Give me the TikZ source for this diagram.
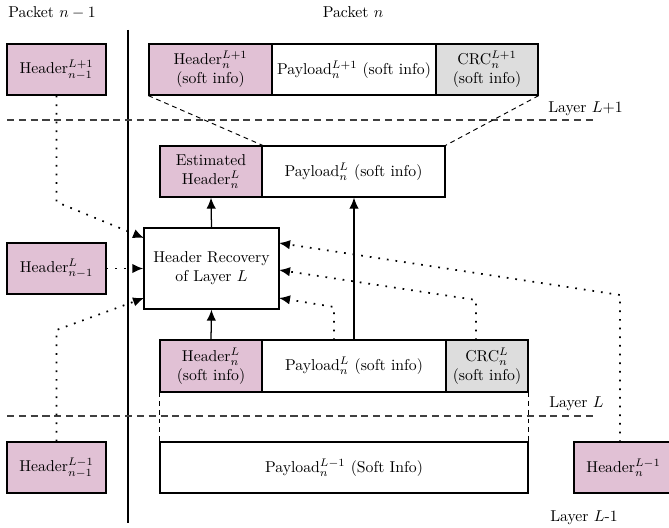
\documentclass[tikz,border=0pt]{standalone}
\usetikzlibrary{arrows.meta}
\definecolor{hdr}{RGB}{225,193,213}
\definecolor{crc}{RGB}{221,221,221}
\def\px{0.635pt}
\begin{document}
\begin{tikzpicture}[x=0.635pt,y=-0.635pt,
  box/.style={draw, line width=0.8pt, inner sep=0pt, align=center, minimum height=51*\px},
  hbox/.style={box, fill=hdr},
  cbox/.style={box, fill=crc},
  dotarrow/.style={line width=1.1pt, dash pattern=on 1.1pt off 4.4pt, -{Latex[length=7pt,width=6pt]}},
  solidarrow/.style={line width=0.8pt, -{Latex[length=7pt,width=6pt]}},
  zoomline/.style={line width=0.6pt, dash pattern=on 3pt off 2.5pt},
  layerline/.style={black!75, line width=0.7pt, dash pattern=on 4.5pt off 3pt},
  lbl/.style={anchor=base west, inner sep=0pt}]
\useasboundingbox (0,0) rectangle (669,527);

% labels
\node[lbl] (pk1) at (8,18) {Packet $n-1$};
\node[anchor=base, inner sep=0pt] (pk2) at (353,18) {Packet $n$};
\node[lbl] (ly1) at (548,112) {Layer $L{+}1$};
\node[lbl] (ly2) at (549,407) {Layer $L$};
\node[lbl] (ly3) at (550,521) {Layer $L$-1};

% separator and layer lines
\draw[line width=0.7pt] (128,30) -- (128,523);
\draw[layerline] (7,120) -- (595,120);
\draw[layerline] (7,416) -- (595,416);

% previous packet headers
\node[hbox, minimum width=99*\px] (h1) at (56.5,69.5) {Header$_{n-1}^{L+1}$};
\node[hbox, minimum width=99*\px] (h2) at (56.5,268.5) {Header$_{n-1}^{L}$};
\node[hbox, minimum width=99*\px] (h3) at (56.5,467.5) {Header$_{n-1}^{L-1}$};

% layer L+1 packet
\node[hbox, minimum width=123*\px] (hu) at (210.5,69.5) {Header$_{n}^{L+1}$\\(soft info)};
\node[box, minimum width=164*\px] (pu) at (354,69.5) {Payload$_{n}^{L+1}$ (soft info)};
\node[cbox, minimum width=102*\px] (cu) at (487,69.5) {CRC$_{n}^{L+1}$\\(soft info)};

% estimated header / payload L
\node[hbox, minimum width=102*\px] (eh) at (211,171.5) {Estimated\\Header$_{n}^{L}$};
\node[box, minimum width=183*\px] (pt) at (353.5,171.5) {Payload$_{n}^{L}$ (soft info)};

% header recovery
\node[box, minimum width=135*\px, minimum height=81*\px] (hr) at (211.5,268.5) {Header Recovery\\of Layer $L$};

% layer L packet
\node[hbox, minimum width=102*\px, minimum height=52*\px] (hl) at (211,366) {Header$_{n}^{L}$\\(soft info)};
\node[box, minimum width=184*\px, minimum height=52*\px] (pl) at (354,366) {Payload$_{n}^{L}$ (soft info)};
\node[cbox, minimum width=82*\px, minimum height=52*\px] (cl) at (487,366) {CRC$_{n}^{L}$\\(soft info)};

% layer L-1
\node[box, minimum width=368*\px] (pm) at (344,467.5) {Payload$_{n}^{L-1}$ (Soft Info)};
\node[hbox, minimum width=99*\px] (hm) at (623.5,467.5) {Header$_{n}^{L-1}$};

% zoom lines
\draw[zoomline] (hu.south west) -- (eh.north east);
\draw[zoomline] (cu.south east) -- (pt.north east);
\draw[zoomline] (hl.south west) -- (pm.north west);
\draw[zoomline] (cl.south east) -- (pm.north east);

% solid arrows
\draw[solidarrow] (hr.north) -- (eh.south);
\draw[solidarrow] (hl.north) -- (hr.south);
\draw[solidarrow] (pl.north) -- (pl.north |- pt.south);

% dotted arrows
\coordinate (b1) at (56.5,202);
\coordinate (e1) at (144,238);
\coordinate (b3) at (56.5,330);
\coordinate (e3) at (144,298);
\coordinate (s4) at (620,442);
\coordinate (b4) at (620,295);
\coordinate (e4) at (279,243);
\coordinate (s5) at (476,340);
\coordinate (b5) at (476,300);
\coordinate (e5) at (279,270);
\coordinate (s6) at (334,340);
\coordinate (b6) at (334,307);
\coordinate (e6) at (279,298);
\draw[dotarrow] (h1.south) -- (b1) -- (e1);
\draw[dotarrow] (h2.east) -- (hr.west);
\draw[dotarrow] (h3.north) -- (b3) -- (e3);
\draw[dotarrow] (s4) -- (b4) -- (e4);
\draw[dotarrow] (s5) -- (b5) -- (e5);
\draw[dotarrow] (s6) -- (b6) -- (e6);
\end{tikzpicture}
\end{document}
